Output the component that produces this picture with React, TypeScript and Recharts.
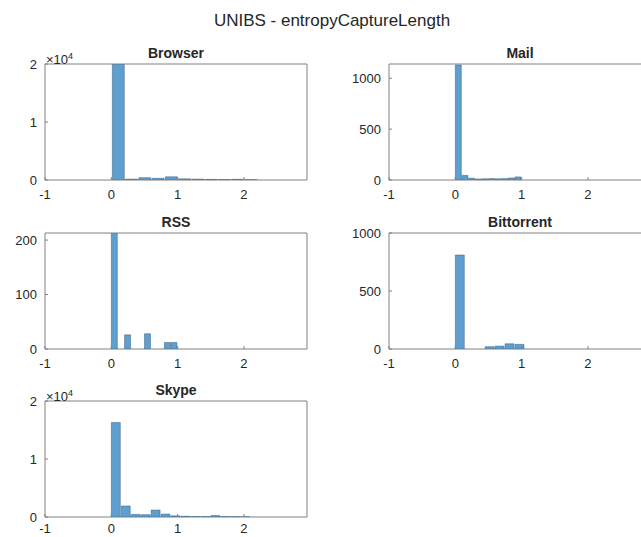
import { Bar, BarChart, ReferenceArea, XAxis, YAxis } from 'recharts'

const FIG_TITLE = 'UNIBS - entropyCaptureLength'
const X_TICKS = [-1, 0, 1, 2]

// histogram counts per bin, bins start at 0
const browserCounts = [19950, 150, 400, 300, 550, 200, 150, 100, 60, 120, 30]
const mailCounts = [1130, 45, 18, 10, 12, 14, 12, 14, 20, 30]
const rssCounts = [213, 0, 26, 0, 0, 28, 0, 0, 12, 12]
const bittorrentCounts = [810, 0, 0, 20, 25, 45, 40]
const skypeCounts = [16300, 1900, 450, 400, 1200, 500, 200, 120, 60, 60, 250, 60, 40, 30]

const browserTicks = [0, 10000, 20000]
const mailTicks = [0, 500, 1000]
const rssTicks = [0, 100, 200]
const bittorrentTicks = [0, 500, 1000]
const skypeTicks = [0, 10000, 20000]

const FONT = '"Liberation Sans", Arial, Helvetica, sans-serif'
const INK = '#262626'
const BOX = '#808080'
const FACE = '#5e9fd0'
const EDGE = '#3b5f7c'

const X_MIN = -1
const X_MAX = 2.95
const PLOT_W = 262
const PLOT_H = 116
const ML = 5
const YW = 40
const MR = 20
const MT = 24
const XH = 29
const CHART_W = ML + YW + PLOT_W + MR
const CHART_H = MT + PLOT_H + XH

function Panel({
  title,
  counts,
  binWidth,
  yMax,
  yTicks,
  scale = 1,
  xGap = 13,
  left,
  top,
}: {
  title: string
  counts: number[]
  binWidth: number
  yMax: number
  yTicks: number[]
  scale?: number
  xGap?: number
  left: number
  top: number
}) {
  const data = counts.map((count, i) => ({
    x: Number((i * binWidth + binWidth / 2).toFixed(4)),
    count,
  }))
  const barSize = (binWidth * PLOT_W) / (X_MAX - X_MIN)

  return (
    <div style={{ position: 'absolute', left, top, width: CHART_W, height: CHART_H }}>
      <BarChart width={CHART_W} height={CHART_H} data={data} margin={{ top: MT, right: MR, bottom: 0, left: ML }}>
        <XAxis
          type="number"
          dataKey="x"
          domain={[X_MIN, X_MAX]}
          ticks={X_TICKS}
          allowDataOverflow
          height={XH}
          axisLine={false}
          tickSize={-3}
          tickMargin={xGap}
          tickLine={{ stroke: BOX }}
          tick={{ fontSize: 13, fill: INK, fontFamily: FONT }}
        />
        <YAxis
          type="number"
          domain={[0, yMax]}
          ticks={yTicks}
          allowDataOverflow
          width={YW}
          axisLine={false}
          tickSize={-3}
          tickMargin={11}
          tickLine={{ stroke: BOX }}
          tickFormatter={(v: number) => `${v / scale}`}
          tick={{ fontSize: 13, fill: INK, fontFamily: FONT }}
        />
        <Bar dataKey="count" barSize={barSize} fill={FACE} stroke={EDGE} strokeWidth={0.5} isAnimationActive={false} />
        <ReferenceArea x1={X_MIN} x2={X_MAX} y1={0} y2={yMax} fill="none" stroke={BOX} strokeWidth={1} ifOverflow="visible" />
      </BarChart>
      <div
        style={{
          position: 'absolute',
          left: ML + YW,
          top: MT - 19,
          width: PLOT_W,
          textAlign: 'center',
          fontFamily: FONT,
          fontWeight: 'bold',
          fontSize: 14,
          color: INK,
          lineHeight: '16px',
        }}
      >
        {title}
      </div>
      {scale !== 1 && (
        <div
          style={{
            position: 'absolute',
            left: ML + YW + 1,
            top: MT - 15,
            fontFamily: FONT,
            fontSize: 13,
            color: INK,
            lineHeight: '14px',
          }}
        >
          ×10<sup style={{ fontSize: 9 }}>4</sup>
        </div>
      )}
    </div>
  )
}

export default function App() {
  return (
    <div
      style={{
        position: 'absolute',
        left: 0,
        top: 0,
        width: 641,
        height: 537,
        overflow: 'hidden',
        background: '#ffffff',
      }}
    >
      <div
        style={{
          position: 'absolute',
          left: 0,
          top: 11,
          width: 664,
          textAlign: 'center',
          fontFamily: FONT,
          fontSize: 17,
          color: INK,
          lineHeight: '20px',
        }}
      >
        {FIG_TITLE}
      </div>
      <Panel title="Browser" counts={browserCounts} binWidth={0.2} yMax={20000} yTicks={browserTicks} scale={10000} left={0} top={40} />
      <Panel title="Mail" counts={mailCounts} binWidth={0.1} yMax={1140} yTicks={mailTicks} left={344} top={40} />
      <Panel title="RSS" counts={rssCounts} binWidth={0.1} yMax={213} yTicks={rssTicks} left={0} top={209} />
      <Panel title="Bittorrent" counts={bittorrentCounts} binWidth={0.15} yMax={1000} yTicks={bittorrentTicks} left={344} top={209} />
      <Panel title="Skype" counts={skypeCounts} binWidth={0.15} yMax={20000} yTicks={skypeTicks} scale={10000} xGap={10} left={0} top={377} />
    </div>
  )
}
